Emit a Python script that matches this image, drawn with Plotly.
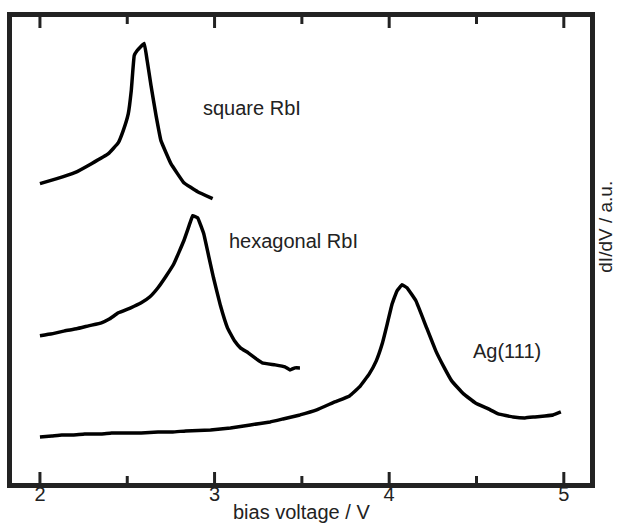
import plotly.graph_objects as go

# bias voltage (V) and dI/dV (a.u.)
square_v = [2.000, 2.097, 2.199, 2.295, 2.392, 2.449, 2.477, 2.506, 2.523, 2.540, 2.557, 2.597,
            2.614, 2.636, 2.665, 2.693, 2.750, 2.824, 2.903, 2.989]
square_y = [2.99, 3.04, 3.10, 3.19, 3.29, 3.40, 3.52, 3.69, 3.92, 4.27, 4.32, 4.39,
            4.22, 3.97, 3.67, 3.42, 3.19, 3.00, 2.91, 2.84]

hex_v = [2.000, 2.068, 2.142, 2.210, 2.278, 2.352, 2.400, 2.449, 2.520, 2.580, 2.630, 2.676,
         2.720, 2.767, 2.824, 2.860, 2.875, 2.903, 2.938, 2.966, 2.994, 3.034, 3.074, 3.114,
         3.148, 3.193, 3.239, 3.273, 3.347, 3.403, 3.432, 3.460, 3.489]
hex_y = [1.47, 1.49, 1.52, 1.54, 1.57, 1.60, 1.64, 1.70, 1.75, 1.80, 1.86, 1.95,
         2.06, 2.19, 2.42, 2.60, 2.67, 2.65, 2.49, 2.27, 2.05, 1.77, 1.55, 1.42,
         1.35, 1.30, 1.24, 1.20, 1.18, 1.16, 1.13, 1.15, 1.15]

ag_v = [2.000, 2.068, 2.125, 2.190, 2.256, 2.352, 2.410, 2.466, 2.580, 2.676, 2.760, 2.835,
        2.977, 3.091, 3.205, 3.318, 3.392, 3.489, 3.585, 3.688, 3.773, 3.830, 3.886, 3.926,
        3.960, 3.989, 4.017, 4.045, 4.074, 4.102, 4.153, 4.210, 4.267, 4.313, 4.358, 4.426,
        4.494, 4.568, 4.625, 4.710, 4.778, 4.835, 4.892, 4.938, 4.983]
ag_y = [0.46, 0.47, 0.48, 0.48, 0.49, 0.49, 0.50, 0.50, 0.50, 0.51, 0.51, 0.52,
        0.53, 0.55, 0.58, 0.61, 0.64, 0.68, 0.73, 0.81, 0.87, 0.96, 1.09, 1.22,
        1.39, 1.59, 1.79, 1.92, 1.98, 1.95, 1.82, 1.57, 1.32, 1.16, 1.02, 0.89,
        0.80, 0.74, 0.69, 0.66, 0.65, 0.66, 0.67, 0.68, 0.71]

labels = ["square RbI", "hexagonal RbI", "Ag(111)"]
label_v = [2.92, 3.07, 4.47]
label_y = [3.75, 2.42, 1.32]

x_ticks = [2, 3, 4, 5]
x_minor = [2.5, 3.5, 4.5]
x_range = [1.84, 5.15]
y_range = [0, 4.655]
x_title = "bias voltage / V"
y_title = "dI/dV / a.u."

FONT = "Liberation Sans, Arial, sans-serif"
INK = "#222222"
W, H = 624, 525
M_L, M_R, M_T, M_B = 12, 34, 17, 42
PLOT_H = H - M_T - M_B

fig = go.Figure()
for v, y in [(square_v, square_y), (hex_v, hex_y), (ag_v, ag_y)]:
    fig.add_trace(go.Scatter(x=v, y=y, mode="lines",
                             line=dict(color="black", width=3.5, shape="spline", smoothing=0.25),
                             showlegend=False, hoverinfo="skip"))

for t, v, y in zip(labels, label_v, label_y):
    fig.add_annotation(x=v, y=y, text=t, showarrow=False, xanchor="left", yanchor="middle",
                       font=dict(family=FONT, size=20, color=INK))

# inward tick marks on bottom and top edges, placed at the tick values in data x
for vals, length in [(x_ticks, 11), (x_minor, 7)]:
    frac = length / PLOT_H
    for v in vals:
        for y0, y1 in [(0, frac), (1, 1 - frac)]:
            fig.add_shape(type="line", xref="x", yref="y domain", x0=v, x1=v,
                          y0=y0, y1=y1, line=dict(color=INK, width=3), layer="above")

fig.add_annotation(text=x_title, xref="paper", yref="paper", x=0.5, y=0, yshift=-29,
                   xanchor="center", yanchor="middle", showarrow=False,
                   font=dict(family=FONT, size=20, color=INK))
fig.add_annotation(text=y_title, xref="paper", yref="paper", x=1, y=0.55, xshift=16,
                   xanchor="center", yanchor="middle", textangle=-90, showarrow=False,
                   font=dict(family=FONT, size=19, color=INK))

fig.update_layout(
    template="none",
    width=W, height=H,
    margin=dict(l=M_L, r=M_R, t=M_T, b=M_B),
    paper_bgcolor="white", plot_bgcolor="white",
    font=dict(family=FONT, color=INK),
    xaxis=dict(range=x_range, tickmode="array", tickvals=x_ticks, ticks="",
               ticklabelstandoff=-11,
               showline=True, linewidth=5, linecolor=INK,
               mirror=True, showgrid=False, zeroline=False, automargin=False,
               tickfont=dict(size=20, family=FONT, color=INK)),
    yaxis=dict(range=y_range, showticklabels=False, ticks="", showline=True, linewidth=5,
               linecolor=INK, mirror=True, showgrid=False, zeroline=False,
               automargin=False),
)

fig.write_html("out.html")
